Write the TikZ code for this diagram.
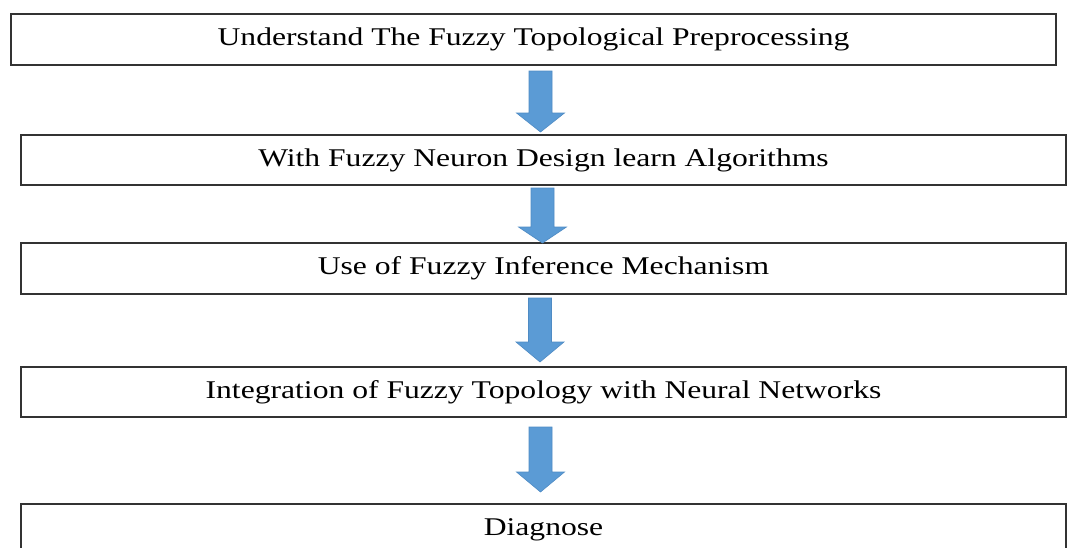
\documentclass[tikz,border=0pt]{standalone}
\usepackage{fontspec}
\setmainfont[FakeStretch=1.24]{Liberation Serif}
\definecolor{arrowblue}{HTML}{5B9BD5}
\definecolor{arrowedge}{HTML}{4F8BC4}
\definecolor{boxline}{HTML}{333333}
\tikzset{
  stepbox/.style={draw=boxline, line width=1.4pt, fill=white, rectangle,
    minimum width=1045pt, inner sep=0pt, outer sep=0pt,
    font=\fontsize{25.5}{30}\selectfont},
  blockarrow/.style={fill=arrowblue, draw=arrowedge, line width=0.6pt, line join=miter}
}
\newcommand{\flowarrow}[5]{% name, x center, y top, y head, y tip
  \coordinate (#1) at (#2,#5);
  \draw[blockarrow] (#2-11.5,#3) -- (#2+11.5,#3) -- (#2+11.5,#4) -- (#2+24,#4)
    -- (#1) -- (#2-24,#4) -- (#2-11.5,#4) -- cycle;
}
\begin{document}
\begin{tikzpicture}[x=1pt,y=-1pt]
\clip (0,0) rectangle (1070,547);
\fill[white] (0,0) rectangle (1070,547);
\node[stepbox, minimum height=51pt] (b1) at (533.5,39.5) {Understand The Fuzzy Topological Preprocessing};
\node[stepbox, minimum height=50pt] (b2) at (543.5,160) {With Fuzzy Neuron Design learn Algorithms};
\node[stepbox, minimum height=51pt] (b3) at (543.5,268.5) {Use of Fuzzy Inference Mechanism};
\node[stepbox, minimum height=50pt] (b4) at (543.5,392) {Integration of Fuzzy Topology with Neural Networks};
\node[stepbox, minimum height=52pt] (b5) at (543.5,530) {Diagnose};
\flowarrow{a1}{540.5}{71}{113}{132}
\flowarrow{a2}{542.5}{188}{227}{243}
\flowarrow{a3}{540}{298}{342}{362}
\flowarrow{a4}{540.5}{427}{472}{492}
\end{tikzpicture}
\end{document}
